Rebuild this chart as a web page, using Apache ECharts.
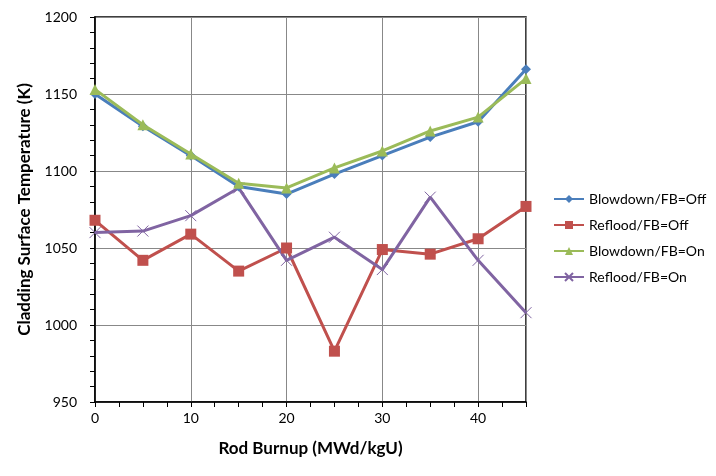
<!DOCTYPE html>
<html><head><meta charset="utf-8">
<script src="https://cdn.jsdelivr.net/npm/echarts@6/dist/echarts.min.js"></script>
<style>html,body{margin:0;padding:0;background:#fff}#c{width:716px;height:476px}</style>
</head><body><div id="c"></div>
<script>
const burnup = [0, 5, 10, 15, 20, 25, 30, 35, 40, 45];
const blowdownOff = [1150, 1129, 1110, 1090, 1085, 1098, 1110, 1122, 1132, 1166];
const refloodOff = [1068, 1042, 1059, 1035, 1050, 983, 1049, 1046, 1056, 1077];
const blowdownOn = [1153, 1130, 1111, 1092, 1089, 1102, 1113, 1126, 1135, 1160];
const refloodOn = [1060, 1061, 1071, 1089, 1042, 1057, 1036, 1083, 1042, 1008];
const seriesNames = ['Blowdown/FB=Off', 'Reflood/FB=Off', 'Blowdown/FB=On', 'Reflood/FB=On'];

const font = 'Lato, "Open Sans", sans-serif';
const pair = arr => burnup.map((x, i) => [x, arr[i]]);
const xPath = 'path://M0,0L10,10M10,0L0,10';

const chart = echarts.init(document.getElementById('c'));
chart.setOption({
  animation: false,
  backgroundColor: '#fff',
  textStyle: {fontFamily: font},
  grid: {left: 95, right: 190, top: 17, bottom: 74, show: true, borderColor: '#000', borderWidth: 1.5},
  legend: {
    orient: 'vertical', left: 548, top: 187, itemGap: 12,
    itemWidth: 30, itemHeight: 10,
    textStyle: {fontFamily: font, fontSize: 14, color: '#000'},
    data: seriesNames
  },
  xAxis: {
    type: 'value', min: 0, max: 45, interval: 10,
    name: 'Rod Burnup (MWd/kgU)', nameLocation: 'middle', nameGap: 38,
    nameTextStyle: {fontFamily: font, fontSize: 17, fontWeight: 'bold', color: '#000'},
    axisLine: {lineStyle: {color: '#000', width: 1.5}},
    axisTick: {show: true, length: 5, lineStyle: {color: '#000'}},
    minorTick: {show: true, splitNumber: 4, length: 5, lineStyle: {color: '#000'}},
    axisLabel: {fontFamily: font, fontSize: 14, color: '#000', margin: 9,
      formatter: v => (v === 45 ? '' : String(v))},
    splitLine: {show: true, lineStyle: {color: '#888', width: 1}}
  },
  yAxis: {
    type: 'value', min: 950, max: 1200, interval: 50,
    name: 'Cladding Surface Temperature (K)', nameLocation: 'middle', nameGap: 62,
    nameTextStyle: {fontFamily: font, fontSize: 17, fontWeight: 'bold', color: '#000'},
    axisLine: {show: true, lineStyle: {color: '#000', width: 1.5}},
    axisTick: {show: true, length: 5, lineStyle: {color: '#000'}},
    minorTick: {show: true, splitNumber: 5, length: 5, lineStyle: {color: '#000'}},
    axisLabel: {fontFamily: font, fontSize: 14, color: '#000', margin: 18,
      formatter: v => String(v)},
    splitLine: {show: true, lineStyle: {color: '#888', width: 1}}
  },
  series: [
    {name: seriesNames[0], type: 'line', data: pair(blowdownOff), symbol: 'diamond', symbolSize: 10,
     itemStyle: {color: '#4a7ebb'}, lineStyle: {color: '#4a7ebb', width: 3}, z: 3},
    {name: seriesNames[1], type: 'line', data: pair(refloodOff), symbol: 'rect', symbolSize: 11,
     itemStyle: {color: '#c0504d'}, lineStyle: {color: '#c0504d', width: 3}, z: 2},
    {name: seriesNames[2], type: 'line', data: pair(blowdownOn), symbol: 'triangle', symbolSize: 11,
     itemStyle: {color: '#9bbb59'}, lineStyle: {color: '#9bbb59', width: 3}, z: 4},
    {name: seriesNames[3], type: 'line', data: pair(refloodOn), symbol: xPath, symbolSize: 11,
     itemStyle: {color: '#8064a2', borderColor: '#8064a2', borderWidth: 1}, lineStyle: {color: '#8064a2', width: 3}, z: 2}
  ]
});
</script></body></html>
